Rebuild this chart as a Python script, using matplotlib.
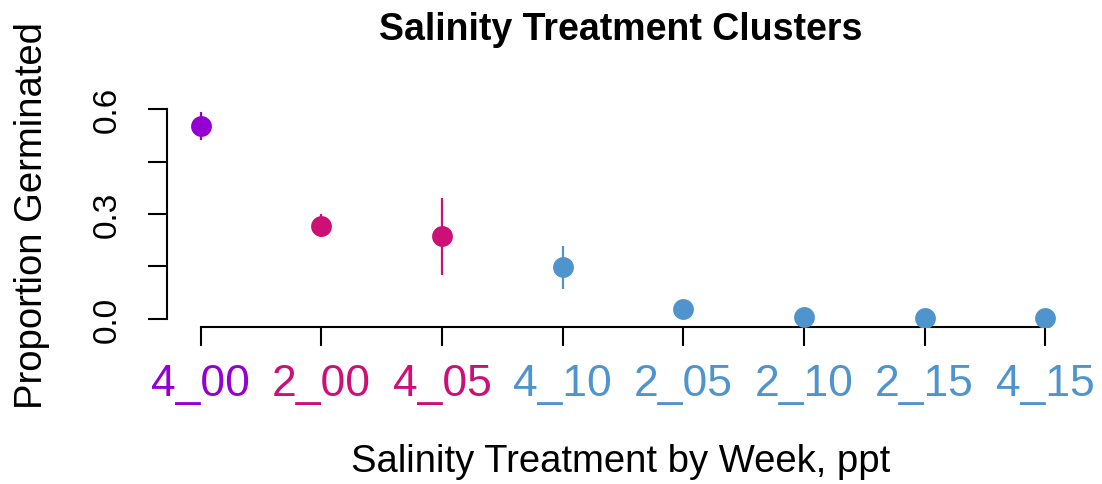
import matplotlib
matplotlib.use("Agg")
import matplotlib.pyplot as plt

categories = ["4_00", "2_00", "4_05", "4_10", "2_05", "2_10", "2_15", "4_15"]
proportion = [0.552, 0.267, 0.236, 0.148, 0.027, 0.004, 0.001, 0.001]
err_low = [0.511, 0.233, 0.124, 0.086, 0.027, 0.004, 0.001, 0.001]
err_high = [0.591, 0.300, 0.346, 0.209, 0.027, 0.004, 0.001, 0.001]
colors = ["#9400D3", "#CD1076", "#CD1076", "#4F94CD", "#4F94CD", "#4F94CD", "#4F94CD", "#4F94CD"]
yticks = [0.0, 0.15, 0.3, 0.45, 0.6]
yticklabels = ["0.0", "", "0.3", "", "0.6"]

plt.rcParams['font.family'] = ['Liberation Sans', 'DejaVu Sans']

W, H = 1102, 485
fig = plt.figure(figsize=(W / 100, H / 100), dpi=100)
ax = fig.add_axes([167 / W, 1 - 328 / H, (1079 - 167) / W, (328 - 105) / H])

xs = list(range(1, len(categories) + 1))
for x, y, lo, hi, c in zip(xs, proportion, err_low, err_high, colors):
    if hi > lo:
        ax.plot([x, x], [lo, hi], color=c, lw=1.6, solid_capstyle='butt', zorder=2)
    ax.plot([x], [y], 'o', color=c, markersize=15, markeredgewidth=0, zorder=3)

ax.set_xlim(0.72, 8.28)
ax.set_ylim(-0.0236, 0.615)

for s in ['top', 'right']:
    ax.spines[s].set_visible(False)
ax.spines['left'].set_bounds(0, 0.6)
ax.spines['bottom'].set_bounds(1, 8)
for s in ['left', 'bottom']:
    ax.spines[s].set_linewidth(1.5)

ax.set_yticks(yticks)
ax.set_yticklabels(yticklabels, rotation=90, va='center', fontsize=24)
ax.set_xticks(xs)
ax.set_xticklabels(categories, fontsize=32)
for lab, c in zip(ax.get_xticklabels(), colors):
    lab.set_color(c)
ax.tick_params(axis='both', length=14, width=1.5, direction='out')
ax.tick_params(axis='y', pad=18)
ax.tick_params(axis='x', pad=12)

fig.text(621 / W, 1 - 30 / H, "Salinity Treatment Clusters", ha='center', va='center',
         fontsize=27, fontweight='bold')
fig.text(621 / W, 1 - 462 / H, "Salinity Treatment by Week, ppt", ha='center', va='center',
         fontsize=27.5)
fig.text(32 / W, 1 - 216 / H, "Proportion Germinated", ha='center', va='center',
         fontsize=27.5, rotation=90)

fig.savefig("out.png", dpi=100)
